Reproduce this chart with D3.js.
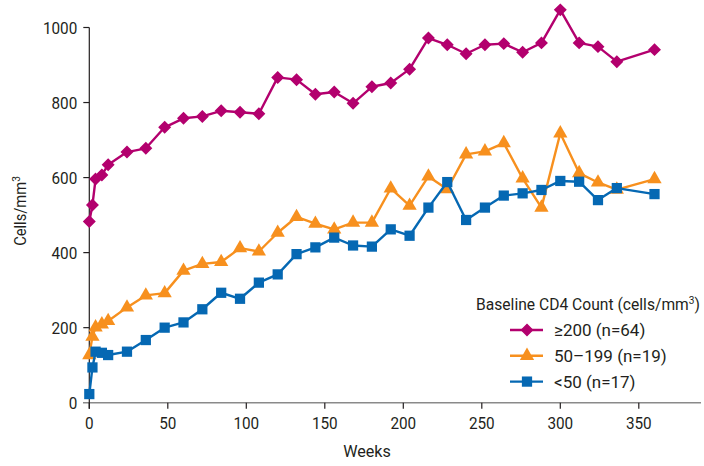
<!DOCTYPE html>
<html>
<head>
<meta charset="utf-8">
<script src="https://cdn.jsdelivr.net/npm/d3@7"></script>
<style>
  body { margin: 0; background: #fff; }
  svg text { font-family: "Roboto", "Liberation Sans", sans-serif; fill: #231f20; }
</style>
</head>
<body>
<svg id="chart" width="704" height="466"></svg>
<script>
// data
const g_weeks = [0, 2, 4, 8, 12, 24, 36, 48, 60, 72, 84, 96, 108, 120, 132, 144, 156, 168, 180,
    192, 204, 216, 228, 240, 252, 264, 276, 288, 300, 312, 324, 336, 360];
const g_high = [483, 527, 596, 607, 634, 668, 678, 734, 758, 763, 778, 774, 770, 867, 861, 822, 828, 798, 842,
    852, 889, 972, 954, 930, 954, 957, 934, 959, 1047, 959, 949, 909, 941];
const g_mid = [127, 176, 201, 209, 218, 254, 286, 292, 352, 370, 375, 412, 403, 453, 495, 477, 462, 480, 480,
    571, 525, 603, 569, 662, 670, 692, 598, 520, 718, 612, 587, 568, 596];
const g_low = [23, 94, 136, 133, 127, 136, 167, 200, 214, 249, 293, 277, 320, 342, 396, 414, 440, 419, 416,
    462, 445, 520, 588, 487, 520, 552, 558, 567, 591, 589, 540, 572, 556];
const g_xticks = [0, 50, 100, 150, 200, 250, 300, 350];
const g_yticks = [0, 200, 400, 600, 800, 1000];
const g_series = [
    { name: "\u2265200 (n=64)", values: g_high, color: "#b3006e", symbol: d3.symbolDiamond2, size: 75, sw: 1.5 },
    { name: "50\u2013199 (n=19)", values: g_mid, color: "#f7901e", symbol: d3.symbolTriangle, size: 88, sw: 0 },
    { name: "<50 (n=17)", values: g_low, color: "#0568b3", symbol: d3.symbolSquare, size: 105, sw: 0 }
];

const svg = d3.select("#chart");
const x = d3.scaleLinear().domain([0, 390]).range([89.3, 701.6]);
const y = d3.scaleLinear().domain([0, 1000]).range([402.7, 27.5]);

// text placed at (px, py), condensed horizontally by sx
function put_text(p_parent, px, py, p_size, p_sx, p_anchor) {
    return p_parent.append("text")
        .attr("transform", "translate(" + px + "," + py + ") scale(" + p_sx + ",1)")
        .attr("text-anchor", p_anchor).style("font-size", p_size + "px");
}

// x axis
const gx = svg.append("g").attr("transform", "translate(0," + y(0) + ")");
gx.append("line").attr("x1", 83).attr("x2", 701).attr("stroke", "#8a8a8a").attr("stroke-width", 1.5);
gx.selectAll(".xt").data(g_xticks).join("line").classed("xt", true)
    .attr("x1", d => x(d)).attr("x2", d => x(d)).attr("y1", 0).attr("y2", 6)
    .attr("stroke", "#231f20").attr("stroke-width", 1.2);
g_xticks.forEach(d => put_text(gx, x(d), 26, 17, 0.9, "middle").text(d));

// y axis
const gy = svg.append("g").attr("transform", "translate(" + x(0) + ",0)");
gy.append("line").attr("y1", y(0) + 6).attr("y2", y(1000)).attr("stroke", "#231f20").attr("stroke-width", 1.2);
gy.selectAll(".yt").data(g_yticks.slice(1)).join("line").classed("yt", true)
    .attr("x1", -6).attr("x2", 0).attr("y1", d => y(d)).attr("y2", d => y(d))
    .attr("stroke", "#231f20").attr("stroke-width", 1.2);
g_yticks.forEach(d => put_text(gy, -12, y(d) + 6, 17, 0.9, "end").text(d));

// axis titles
svg.append("text").attr("transform", "translate(26,211) rotate(-90) scale(0.92,1)").attr("text-anchor", "middle")
    .style("font-size", "16px").html('Cells/mm<tspan dy="-6" style="font-size:11px">3</tspan>');
put_text(svg, 367, 457, 17, 0.95, "middle").text("Weeks");

// series
const line = d3.line().x((d, i) => x(g_weeks[i])).y(d => y(d));
g_series.forEach(function (s) {
    const g = svg.append("g");
    g.append("path").attr("d", line(s.values)).attr("fill", "none")
        .attr("stroke", s.color).attr("stroke-width", 2.4).attr("stroke-linejoin", "round");
    g.selectAll("path.mk").data(s.values).join("path").classed("mk", true)
        .attr("transform", (d, i) => "translate(" + x(g_weeks[i]) + "," + y(d) + ")")
        .attr("d", d3.symbol().type(s.symbol).size(s.size))
        .attr("fill", s.color).attr("stroke", s.color).attr("stroke-width", s.sw);
});

// legend
const lg = svg.append("g");
put_text(lg, 476, 310, 17, 0.92, "start")
    .html('Baseline CD4 Count (cells/mm<tspan dy="-6" style="font-size:11px">3</tspan><tspan dy="6">)</tspan>');
g_series.forEach(function (s, i) {
    const ly = 330 + i * 25.8;
    lg.append("line").attr("x1", 510).attr("x2", 543).attr("y1", ly).attr("y2", ly)
        .attr("stroke", s.color).attr("stroke-width", 2.4);
    lg.append("path").attr("transform", "translate(527," + ly + ")")
        .attr("d", d3.symbol().type(s.symbol).size(s.size))
        .attr("fill", s.color).attr("stroke", s.color).attr("stroke-width", s.sw);
    put_text(lg, 554, ly + 6, 17, 1, "start").text(s.name);
});
</script>
</body>
</html>
